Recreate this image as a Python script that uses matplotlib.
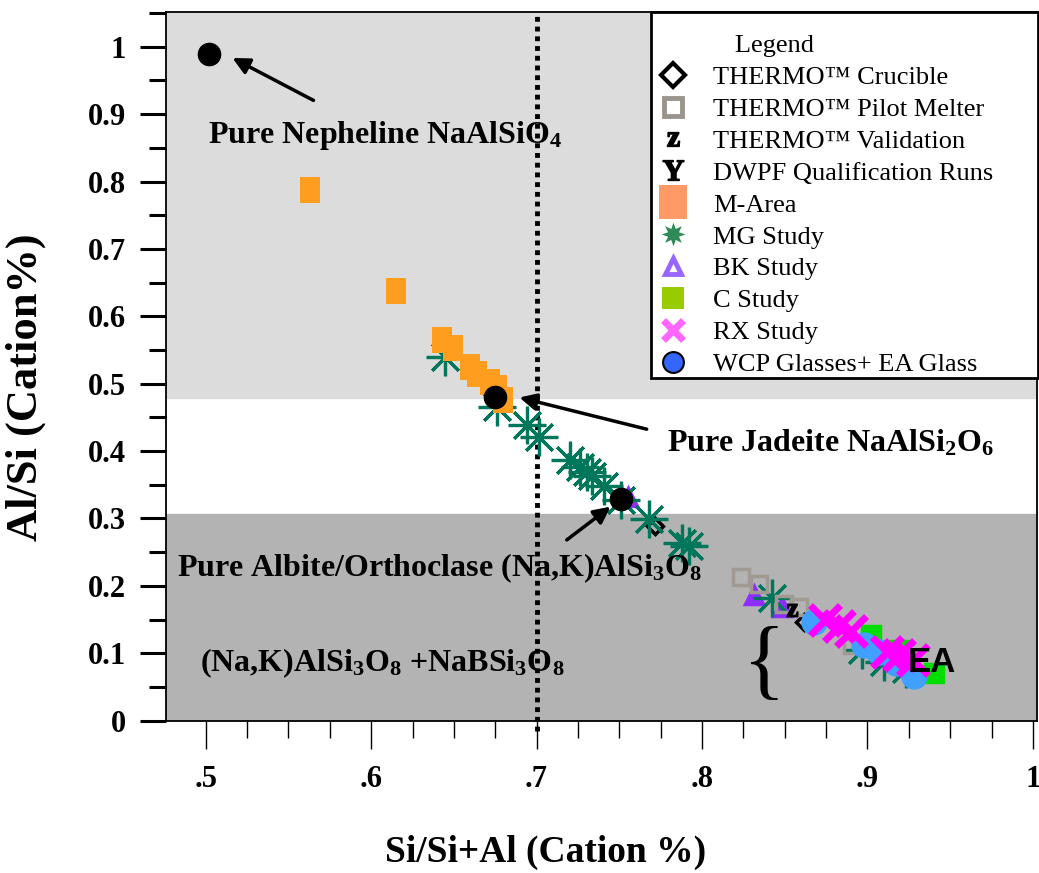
import numpy as np
import matplotlib
matplotlib.use("Agg")
import matplotlib.pyplot as plt
from matplotlib.lines import Line2D
from matplotlib.patches import Rectangle
from matplotlib.path import Path
from matplotlib.ticker import MultipleLocator

plt.rcParams['font.family'] = ['Liberation Serif', 'DejaVu Serif']
plt.rcParams['mathtext.fontset'] = 'custom'
plt.rcParams['mathtext.rm'] = 'Liberation Serif:bold'
plt.rcParams['mathtext.default'] = 'rm'

# ---- data ----
pure_x = [0.502, 0.6747, 0.7511]
pure_y = [0.9896, 0.4805, 0.3286]

marea_x = [0.563, 0.615, 0.6431, 0.6493, 0.6596, 0.6638, 0.6716, 0.6759, 0.6795]
marea_y = [0.788, 0.638, 0.5651, 0.5532, 0.5250, 0.5146, 0.5027, 0.4938, 0.4760]

mg_x = [0.6445, 0.6759, 0.6940, 0.7013, 0.7200, 0.7260, 0.7302, 0.7332, 0.7410,
        0.7513, 0.7682, 0.7881, 0.7923, 0.8424, 0.8964, 0.9100, 0.9230]
mg_y = [0.5399, 0.4656, 0.4389, 0.4211, 0.3869, 0.3765, 0.3691, 0.3632, 0.3484,
        0.3277, 0.2994, 0.2638, 0.2593, 0.1821, 0.1049, 0.0871, 0.0760]

bk_x = [0.7550, 0.8316, 0.8485]
bk_y = [0.3321, 0.1866, 0.1687]

pilot_x = [0.8237, 0.8346, 0.8497, 0.8587, 0.8907]
pilot_y = [0.2133, 0.2029, 0.1732, 0.1688, 0.1124]

crucible_x = [0.7718, 0.8617]
crucible_y = [0.2889, 0.1460]

valid_x = [0.8545]
valid_y = [0.1642]

c_x = [0.9022, 0.9191, 0.9402]
c_y = [0.1272, 0.1049, 0.0708]

wcp_x = [0.8678, 0.8980, 0.9070, 0.9173, 0.9282]
wcp_y = [0.1466, 0.1124, 0.1020, 0.0857, 0.0664]

rx_x = [0.8744, 0.8829, 0.8901, 0.9118, 0.9191, 0.9275]
rx_y = [0.1494, 0.1405, 0.1331, 0.1020, 0.0975, 0.0900]

xticks = [0.5, 0.6, 0.7, 0.8, 0.9, 1.0]
xticklabels = ['.5', '.6', '.7', '.8', '.9', '1']
yticks = [0, 0.1, 0.2, 0.3, 0.4, 0.5, 0.6, 0.7, 0.8, 0.9, 1.0]
yticklabels = ['0', '0.1', '0.2', '0.3', '0.4', '0.5', '0.6', '0.7', '0.8', '0.9', '1']

# tall rectangle marker for M-Area
rect = Path([(-0.78, -1), (0.78, -1), (0.78, 1), (-0.78, 1), (-0.78, -1)],
            [Path.MOVETO, Path.LINETO, Path.LINETO, Path.LINETO, Path.CLOSEPOLY])

fig = plt.figure(figsize=(10.39, 8.73), dpi=100)
ax = fig.add_axes([0.1598, 0.1745, 0.8383, 0.8121])

ax.axhspan(0.479, 1.1, color='#dcdcdc', zorder=0)
ax.axhspan(0, 0.307, color='#b3b3b3', zorder=0)
ax.axvline(0.7, ymin=-0.014, ymax=1.0, color='black', lw=3.5,
           ls=(0, (1, 1)), clip_on=False, zorder=2)

ax.plot(bk_x, bk_y, ls='none', marker='^', ms=13, mew=2.5, mfc='#8f2fff',
        mec='#8f2fff', zorder=2.5)
ax.plot(mg_x, mg_y, ls='none', marker=(8, 2, 0), ms=27, mew=2.3,
        color='#00765a', zorder=3)
ax.plot(marea_x, marea_y, ls='none', marker=rect, ms=19, mew=0,
        color='#ff9e1e', zorder=4)
ax.plot(pilot_x, pilot_y, ls='none', marker='s', ms=11, mew=2.5, mfc='none',
        mec='#a09a92', zorder=3)
ax.plot(crucible_x, crucible_y, ls='none', marker='D', ms=8, mew=2.5, mfc='none',
        mec='black', zorder=2.8)
ax.plot(valid_x, valid_y, ls='none', marker='$z$', ms=9, color='black', zorder=3)
ax.plot(c_x, c_y, ls='none', marker='s', ms=15, color='#00dd00', zorder=4)
ax.plot(wcp_x, wcp_y, ls='none', marker='o', ms=19, mew=0, color='#409fff', zorder=5)
ax.plot(rx_x, rx_y, ls='none', marker='x', ms=22, mew=5, color='#ff00ff', zorder=6)
ax.plot(pure_x, pure_y, ls='none', marker='o', ms=16, color='black', zorder=7)

# annotations
arrow = dict(arrowstyle='-|>', lw=2.5, color='black', mutation_scale=25)
tkw = dict(fontsize=23, fontweight='bold', va='center', ha='left')
ax.annotate('', xy=(0.5147, 0.9852), xytext=(0.5666, 0.9185), arrowprops=arrow, zorder=8)
ax.text(0.5014, 0.869, 'Pure Nepheline NaAlSiO$_4$', **tkw)
ax.annotate('', xy=(0.688, 0.4805), xytext=(0.7682, 0.4315), arrowprops=arrow, zorder=8)
ax.text(0.779, 0.412, 'Pure Jadeite NaAlSi$_2$O$_6$', **tkw)
ax.annotate('', xy=(0.746, 0.320), xytext=(0.7169, 0.2657), arrowprops=arrow, zorder=8)
ax.text(0.4827, 0.2267, 'Pure Albite/Orthoclase (Na,K)AlSi$_3$O$_8$', zorder=8, **tkw)
ax.text(0.4966, 0.0856, '(Na,K)AlSi$_3$O$_8$ +NaBSi$_3$O$_8$', zorder=8, **tkw)
ax.text(0.8376, 0.080, '{', fontsize=64, ha='center', va='center', zorder=8)
ax.text(0.924, 0.087, 'EA', fontsize=25, fontweight='bold', family='Liberation Sans',
        ha='left', va='center', zorder=8)

ax.set_xlim(0.476, 1.0025)
ax.set_ylim(0, 1.052)
ax.set_xticks(xticks)
ax.set_xticklabels(xticklabels, fontsize=22, fontweight='bold')
ax.set_yticks(yticks)
ax.set_yticklabels(yticklabels, fontsize=22, fontweight='bold')
ax.xaxis.set_minor_locator(MultipleLocator(0.025))
ax.yaxis.set_minor_locator(MultipleLocator(0.05))
ax.tick_params(axis='x', which='major', direction='out', length=20, width=1, pad=12)
ax.tick_params(axis='x', which='minor', direction='out', length=12, width=1)
ax.tick_params(axis='y', which='major', direction='out', length=19, width=2.2, pad=10)
ax.tick_params(axis='y', which='minor', direction='out', length=12, width=2.2)
for s in ax.spines.values():
    s.set_linewidth(1.3)

ax.set_xlabel('Si/Si+Al (Cation %)', fontsize=27, fontweight='bold')
ax.xaxis.set_label_coords(0.436, -0.161)
ax.set_ylabel('Al/Si (Cation%)', fontsize=32, fontweight='bold')
ax.yaxis.set_label_coords(-0.1378, 0.4707)

# legend proxies, frame drawn separately
handles = [
    Line2D([], [], ls='none', marker='D', ms=12, mew=3, mfc='none', mec='black'),
    Line2D([], [], ls='none', marker='s', ms=13, mew=3.5, mfc='none', mec='#9a948c'),
    Line2D([], [], ls='none', marker='$\\mathrm{z}$', ms=10, color='black'),
    Line2D([], [], ls='none', marker='$\\mathrm{Y}$', ms=15, color='black'),
    Line2D([], [], ls='none', marker=rect, ms=25, mew=0, color='#ff9966'),
    Line2D([], [], ls='none', marker=(8, 1, 0), ms=17, mew=0, color='#2e8b57'),
    Line2D([], [], ls='none', marker='^', ms=12, mew=3.5, mfc='none', mec='#9966ff'),
    Line2D([], [], ls='none', marker='s', ms=16, mew=0, color='#99cc00'),
    Line2D([], [], ls='none', marker='x', ms=14, mew=5, color='#ff66ff'),
    Line2D([], [], ls='none', marker='o', ms=15, mew=1.5, mfc='#3366ff', mec='black'),
]
labels = ['THERMO™ Crucible', 'THERMO™ Pilot Melter', 'THERMO™ Validation',
          'DWPF Qualification Runs', 'M-Area', 'MG Study', 'BK Study', 'C Study',
          'RX Study', 'WCP Glasses+ EA Glass']
leg = ax.legend(handles, labels, title='           Legend', loc='upper left',
                bbox_to_anchor=(0.5568, 0.982), borderaxespad=0,
                fontsize=19, title_fontsize=19, alignment='left',
                handlelength=0.9, handletextpad=1.05, labelspacing=0.32,
                borderpad=0.4, frameon=False)
leg.set_zorder(10)
ax.add_patch(Rectangle((0.5568, 0.4834), 0.4443, 0.5162, transform=ax.transAxes,
                       facecolor='white', edgecolor='black', lw=2,
                       clip_on=False, zorder=9))

fig.savefig('out.png', dpi=100)
